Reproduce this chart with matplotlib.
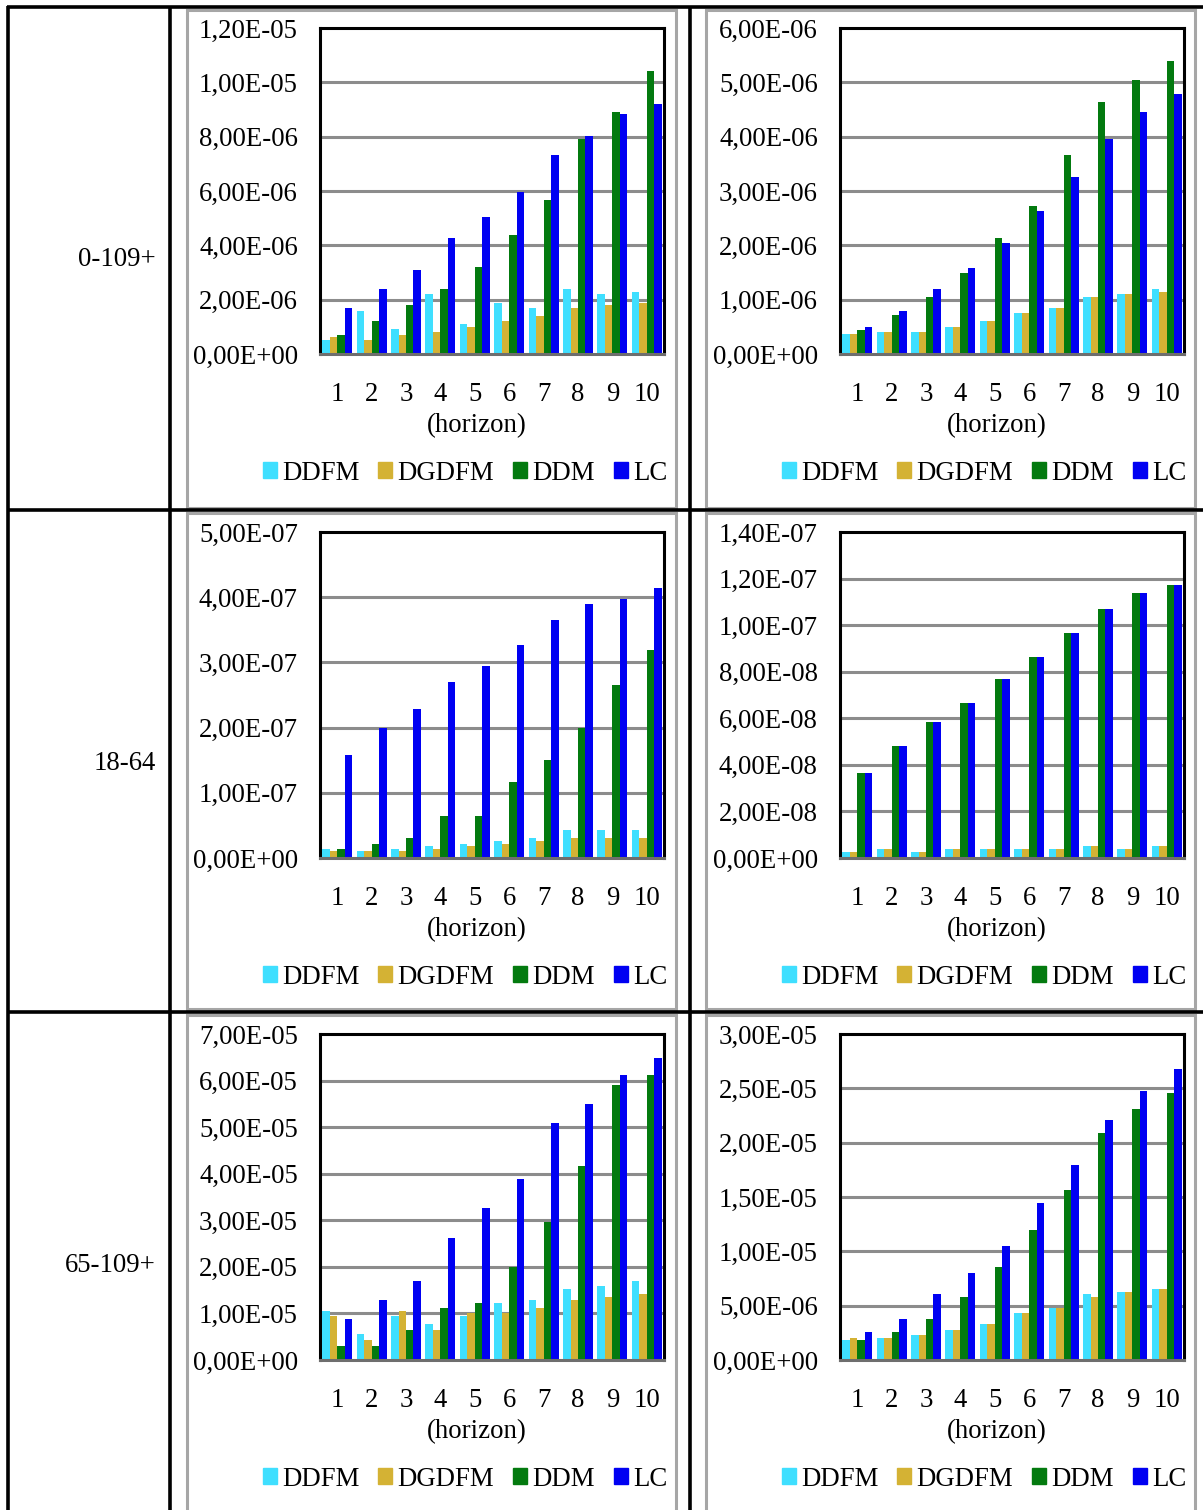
import numpy as np
import matplotlib.pyplot as plt
from matplotlib.patches import Rectangle
from matplotlib.lines import Line2D
from matplotlib.transforms import ScaledTranslation

plt.rcParams['font.family'] = ['Liberation Serif', 'DejaVu Serif']

W, H = 1203, 1510
FS = 19.3

horizon = np.arange(1, 11)
models = ['DDFM', 'DGDFM', 'DDM', 'LC']
colors = ['#3fdfff', '#d4b234', '#037a0f', '#0000f2']
row_labels = ['0-109+', '18-64', '65-109+']

# 0-109+, left panel (x 1e-6)
all_l_ddfm = [0.53, 1.60, 0.91, 2.20, 1.11, 1.89, 1.71, 2.40, 2.20, 2.30]
all_l_dgdfm = [0.62, 0.53, 0.71, 0.81, 1.01, 1.21, 1.41, 1.71, 1.81, 1.89]
all_l_ddm = [0.71, 1.21, 1.81, 2.40, 3.19, 4.37, 5.66, 7.93, 8.92, 10.41]
all_l_lc = [1.71, 2.40, 3.10, 4.28, 5.06, 5.95, 7.34, 8.02, 8.82, 9.21]

# 0-109+, right panel (x 1e-6)
all_r_ddfm = [0.36, 0.40, 0.40, 0.50, 0.60, 0.75, 0.85, 1.05, 1.10, 1.20]
all_r_dgdfm = [0.36, 0.40, 0.40, 0.50, 0.60, 0.75, 0.85, 1.05, 1.10, 1.15]
all_r_ddm = [0.45, 0.71, 1.05, 1.49, 2.13, 2.72, 3.66, 4.64, 5.04, 5.39]
all_r_lc = [0.50, 0.80, 1.20, 1.59, 2.04, 2.63, 3.26, 3.96, 4.45, 4.79]

# 18-64, left panel (x 1e-7)
mid_l_ddfm = [0.14, 0.10, 0.14, 0.18, 0.22, 0.26, 0.30, 0.43, 0.43, 0.43]
mid_l_dgdfm = [0.10, 0.10, 0.10, 0.14, 0.18, 0.22, 0.26, 0.30, 0.30, 0.30]
mid_l_ddm = [0.14, 0.22, 0.30, 0.64, 0.64, 1.17, 1.50, 2.00, 2.66, 3.19]
mid_l_lc = [1.58, 2.00, 2.28, 2.70, 2.95, 3.27, 3.65, 3.89, 3.97, 4.14]

# 18-64, right panel (x 1e-8)
mid_r_ddfm = [0.27, 0.39, 0.27, 0.39, 0.39, 0.39, 0.39, 0.50, 0.39, 0.50]
mid_r_dgdfm = [0.27, 0.39, 0.27, 0.39, 0.39, 0.39, 0.39, 0.50, 0.39, 0.50]
mid_r_ddm = [3.63, 4.80, 5.85, 6.66, 7.69, 8.63, 9.67, 10.71, 11.40, 11.74]
mid_r_lc = [3.63, 4.80, 5.85, 6.66, 7.69, 8.63, 9.67, 10.71, 11.40, 11.74]

# 65-109+, left panel (x 1e-5)
old_l_ddfm = [1.06, 0.55, 0.95, 0.77, 0.95, 1.23, 1.29, 1.53, 1.58, 1.70]
old_l_dgdfm = [0.95, 0.42, 1.06, 0.65, 1.00, 1.00, 1.12, 1.29, 1.35, 1.41]
old_l_ddm = [0.31, 0.31, 0.65, 1.12, 1.23, 1.99, 2.96, 4.17, 5.90, 6.13]
old_l_lc = [0.89, 1.29, 1.70, 2.62, 3.26, 3.88, 5.09, 5.50, 6.13, 6.48]

# 65-109+, right panel (x 1e-6)
old_r_ddfm = [1.81, 2.06, 2.34, 2.80, 3.32, 4.31, 4.80, 6.03, 6.28, 6.55]
old_r_dgdfm = [2.06, 2.06, 2.34, 2.80, 3.32, 4.31, 4.80, 5.78, 6.28, 6.55]
old_r_ddm = [1.81, 2.55, 3.81, 5.78, 8.52, 11.97, 15.69, 20.90, 23.10, 24.60]
old_r_lc = [2.55, 3.81, 6.03, 8.00, 10.49, 14.46, 17.90, 22.10, 24.80, 26.80]

panels = [
    (0, 0, [all_l_ddfm, all_l_dgdfm, all_l_ddm, all_l_lc], 1e-6, 1.2e-5, 2e-6),
    (0, 1, [all_r_ddfm, all_r_dgdfm, all_r_ddm, all_r_lc], 1e-6, 6e-6, 1e-6),
    (1, 0, [mid_l_ddfm, mid_l_dgdfm, mid_l_ddm, mid_l_lc], 1e-7, 5e-7, 1e-7),
    (1, 1, [mid_r_ddfm, mid_r_dgdfm, mid_r_ddm, mid_r_lc], 1e-8, 1.4e-7, 2e-8),
    (2, 0, [old_l_ddfm, old_l_dgdfm, old_l_ddm, old_l_lc], 1e-5, 7e-5, 1e-5),
    (2, 1, [old_r_ddfm, old_r_dgdfm, old_r_ddm, old_r_lc], 1e-6, 3e-5, 5e-6),
]

# layout in pixels
plot_left = [320, 840]
plot_w = 344
plot_top = [28, 532, 1034]
plot_h = 326
box_left = [187, 706]
box_w = 489
box_top = [10, 513, 1015]
box_bottom = [508, 1009, 1515]
row_mid = [259, 763, 1266]


def fx(x):
    return x / W


def fy(y):
    return 1 - y / H


def sci_comma(v):
    return f"{v:.2E}".replace('.', ',')


fig = plt.figure(figsize=(W / 100, H / 100), dpi=100)

# table rules
tl = dict(color='black', lw=2.6, transform=fig.transFigure, solid_capstyle='butt')
fig.add_artist(Line2D([fx(7), 1], [fy(7), fy(7)], **tl))
for yy in [510, 1012]:
    fig.add_artist(Line2D([fx(7), 1], [fy(yy), fy(yy)], **tl))
for xx in [8, 170, 690]:
    fig.add_artist(Line2D([fx(xx), fx(xx)], [fy(6), 0], **tl))

for r, lab in enumerate(row_labels):
    fig.text(fx(156), fy(row_mid[r]), lab, ha='right', va='center', fontsize=FS)

# chart frames
for r in range(3):
    for c in range(2):
        fig.add_artist(Rectangle((fx(box_left[c]), fy(box_bottom[r])), box_w / W,
                                 (box_bottom[r] - box_top[r]) / H, transform=fig.transFigure,
                                 fill=False, edgecolor='#a6a6a6', lw=2.2))

width = 0.218
offsets = (np.arange(4) - 1.5) * width
nudge = ScaledTranslation(0, -2 / 100, fig.dpi_scale_trans)

for r, c, series, unit, ymax, ystep in panels:
    ax = fig.add_axes([fx(plot_left[c]), fy(plot_top[r] + plot_h), plot_w / W, plot_h / H])
    for k, vals in enumerate(series):
        ax.bar(horizon + offsets[k], np.array(vals) * unit, width, color=colors[k],
               zorder=3, label=models[k])
    ticks = np.arange(0, ymax + ystep / 2, ystep)
    ax.set_ylim(0, ymax)
    ax.set_xlim(0.5, 10.5)
    ax.set_yticks(ticks)
    ax.set_yticklabels([sci_comma(t) for t in ticks], fontsize=FS)
    for lbl in ax.get_yticklabels():
        lbl.set_transform(lbl.get_transform() + nudge)
    ax.set_xticks(horizon)
    ax.set_xticklabels([str(h) for h in horizon], fontsize=FS)
    ax.tick_params(axis='y', length=0, pad=16)
    ax.tick_params(axis='x', length=0, pad=20)
    for t in ticks[1:-1]:
        ax.axhline(t, color='#8c8c8c', lw=2.2, zorder=1)
    for s in ax.spines.values():
        s.set_linewidth(2.2)
        s.set_color('black')
    ax.spines['bottom'].set_color('#6e6e6e')
    ax.spines['bottom'].set_zorder(4)
    ax.set_xlabel('(horizon)', fontsize=FS, va='center')
    ax.xaxis.set_label_coords(0.456, -0.221)
    handles = [Rectangle((0, 0), 1, 1, color=col) for col in colors]
    cx = fx(box_left[c] + 278)
    cy = fy(plot_top[r] + 445)
    ax.legend(handles, models, loc='center', bbox_to_anchor=(cx, cy),
              bbox_transform=fig.transFigure, ncol=4, frameon=False, fontsize=FS,
              handlelength=0.52, handleheight=0.52, handletextpad=0.2,
              columnspacing=0.7, borderaxespad=0, borderpad=0)

fig.savefig('out.png', dpi=100)
